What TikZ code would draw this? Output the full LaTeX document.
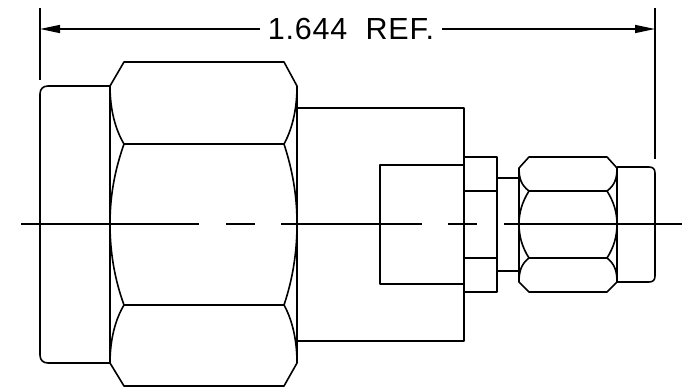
\documentclass[tikz,border=0pt]{standalone}
\usepackage{fontspec}
\setmainfont[LetterSpace=2.5]{Liberation Sans}
\usetikzlibrary{arrows.meta}
\tikzset{
  part/.style={line width=1.6pt,line join=round},
  centerline/.style={line width=1.5pt},
  dimline/.style={line width=1.5pt},
  dimarrow/.style={dimline,-{Triangle[length=20pt,width=8pt]}},
  dimtext/.style={inner sep=0pt,font=\fontsize{30.5}{30.5}\selectfont}
}
\begin{document}
\begin{tikzpicture}[x=1pt,y=-1pt]
    \useasboundingbox (0,0) rectangle (687,387);
    % dimension
    \coordinate (dimleft) at (40,29);
    \coordinate (dimright) at (655,29);
    \node [dimtext] (reflabel) at (351,29) {1.644\ \ REF.};
    \draw [dimarrow] (260,29) -- (dimleft);
    \draw [dimarrow] (442,29) -- (dimright);
    \draw [dimline] (40,8) -- (40,80);
    \draw [dimline] (655,8) -- (655,159);
    % center line
    \foreach \xa/\xb in {21/199,226/255,281/422,448/477,504/682}
    {
      \draw [centerline] (\xa,224) -- (\xb,224);
    }
    % big end
    \draw [part] (110,86) -- (48,86) .. controls (43,86) and (40,89) .. (40,94)
      -- (40,355) .. controls (40,360) and (43,363) .. (48,363) -- (110,363);
    % big nut
    \draw [part] (110,86) -- (124,62) -- (284,62) -- (297,86) -- (297,363)
      -- (284,386) -- (124,386) -- (110,363) -- cycle;
    \draw [part] (124,144) -- (284,144);
    \draw [part] (124,305) -- (284,305);
    \foreach \xo/\xi in {110/124,297/284}
    {
      \draw [part] (\xo,86) .. controls (\xo,110) and ({0.6*\xo+0.4*\xi},130) .. (\xi,144);
      \draw [part] (\xi,144) .. controls ({0.65*\xo+0.35*\xi},170) and (\xo,195) .. (\xo,224)
        .. controls (\xo,253) and ({0.65*\xo+0.35*\xi},280) .. (\xi,305);
      \draw [part] (\xi,305) .. controls ({0.6*\xo+0.4*\xi},319) and (\xo,339) .. (\xo,363);
    }
    % body
    \draw [part] (297,108) -- (464,108) -- (464,341) -- (297,341);
    \draw [part] (464,165) -- (380,165) -- (380,284) -- (464,284);
    % hex
    \draw [part] (464,157) rectangle (497,292);
    \draw [part] (464,191) -- (497,191);
    \draw [part] (464,258) -- (497,258);
    % neck
    \draw [part] (497,178) -- (519,178);
    \draw [part] (497,271) -- (519,271);
    % small nut
    \draw [part] (519,168) -- (529,157) -- (607,157) -- (617,168) -- (617,282)
      -- (607,292) -- (529,292) -- (519,282) -- cycle;
    \draw [part] (529,191) -- (607,191);
    \draw [part] (529,258) -- (607,258);
    \foreach \xo/\xi in {519/529,617/607}
    {
      \draw [part] (\xo,168) .. controls (\xo,178) and ({0.8*\xo+0.2*\xi},185) .. (\xi,191);
      \draw [part] (\xi,191) .. controls ({0.7*\xo+0.3*\xi},202) and (\xo,213) .. (\xo,224)
        .. controls (\xo,236) and ({0.7*\xo+0.3*\xi},247) .. (\xi,258);
      \draw [part] (\xi,258) .. controls ({0.8*\xo+0.2*\xi},264) and (\xo,272) .. (\xo,282);
    }
    % cap
    \draw [part] (617,167) -- (649,167) .. controls (653,167) and (655,169) .. (655,173)
      -- (655,276) .. controls (655,280) and (653,282) .. (649,282) -- (617,282);
\end{tikzpicture}
\end{document}
